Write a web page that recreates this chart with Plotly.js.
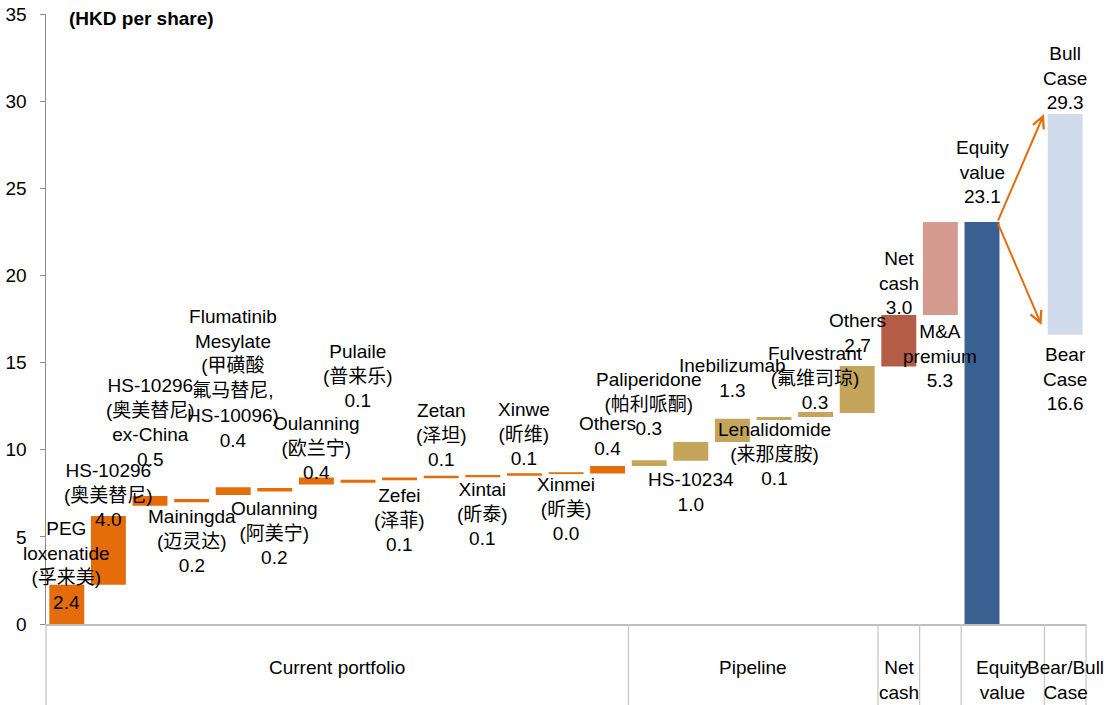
<!DOCTYPE html>
<html><head><meta charset="utf-8">
<script src="https://cdn.plot.ly/plotly-3.0.1.min.js"></script>
<style>html,body{margin:0;padding:0;background:#fff;} #chart{width:1109px;height:705px;}</style>
</head><body><div id="chart"></div>
<script>
// ---- data ----
const categories = ['PEG loxenatide','HS-10296','HS-10296 ex-China','Mainingda','Flumatinib Mesylate',
  'Oulanning (阿美宁)','Oulanning (欧兰宁)','Pulaile','Zefei','Zetan','Xintai','Xinwe','Xinmei','Others',
  'Paliperidone','HS-10234','Inebilizumab','Lenalidomide','Fulvestrant','Others (pipeline)',
  'Net cash','M&A premium','Equity value','(gap)','Bear/Bull Case'];
const barBase = [0, 2.25, 6.78, 6.98, 7.40, 7.60, 8.00, 8.11, 8.25, 8.36, 8.42, 8.50, 8.60, 8.64,
  9.07, 9.37, 10.44, 11.70, 11.88, 12.10, 14.77, 17.73, 0, null, 16.6];
const barTop = [2.25, 6.20, 7.35, 7.17, 7.85, 7.80, 8.40, 8.27, 8.40, 8.50, 8.55, 8.65, 8.70, 9.07,
  9.40, 10.44, 11.78, 11.88, 12.16, 14.80, 17.73, 23.06, 23.06, null, 29.26];
const barGroup = ['current','current','current','current','current','current','current','current','current',
  'current','current','current','current','current','pipeline','pipeline','pipeline','pipeline','pipeline',
  'pipeline','cash','premium','equity',null,'case'];
const labelNames = ['PEG<br>loxenatide<br>(孚来美)','HS-10296<br>(奥美替尼)','HS-10296<br>(奥美替尼)<br>ex-China',
  'Mainingda<br>(迈灵达)','Flumatinib<br>Mesylate<br>(甲磺酸<br>氟马替尼,<br>HS-10096)','Oulanning<br>(阿美宁)',
  'Oulanning<br>(欧兰宁)','Pulaile<br>(普来乐)','Zefei<br>(泽菲)','Zetan<br>(泽坦)','Xintai<br>(昕泰)',
  'Xinwe<br>(昕维)','Xinmei<br>(昕美)','Others','Paliperidone<br>(帕利哌酮)','HS-10234','Inebilizumab',
  'Lenalidomide<br>(来那度胺)','Fulvestrant<br>(氟维司琼)','Others','Net<br>cash','M&amp;A<br>premium',
  'Equity<br>value',null,null];
const labelValues = ['2.4','4.0','0.5','0.2','0.4','0.2','0.4','0.1','0.1','0.1','0.1','0.1','0.0','0.4',
  '0.3','1.0','1.3','0.1','0.3','2.7','3.0','5.3','23.1',null,null];
const caseNames = ['Bull<br>Case','Bear<br>Case'];
const caseValues = ['29.3','16.6'];
const groupNames = ['Current portfolio','Pipeline','Net<br>cash','','Equity<br>value','Bear/Bull<br>Case'];
const groupSizes = [14, 6, 1, 1, 2, 1];
const yTicks = [0, 5, 10, 15, 20, 25, 30, 35];

// ---- layout helpers (positions / styles) ----
const labelCenterY = [3.36, 7.43, 11.59, 4.76, 14.09, 5.25, 10.10, 14.23, 5.97, 10.84, 6.31, 10.90, 6.57,
  10.76, 12.65, 7.60, 14.14, 9.75, 14.11, 16.72, 19.56, 15.38, 25.93, null, null];
const caseLabelY = [31.30, 14.03];
const colors = {current:'#E46C0A', pipeline:'#C4A55B', cash:'#B45C45', premium:'#D59B90',
  equity:'#3A5F91', case:'#D0DCEC'};
const FONT = 'Liberation Sans, Arial, Noto Sans CJK SC, sans-serif';
const FS = 19;
const BW = 0.84;

const xs = categories.map((c, i) => i);
const heights = barTop.map((t, i) => (t === null ? null : t - barBase[i]));

const trace = {
  type: 'bar', x: xs, y: heights, base: barBase, width: BW,
  marker: {color: barGroup.map(g => g ? colors[g] : 'rgba(0,0,0,0)'), line: {width: 0}},
  hoverinfo: 'skip', text: categories, textposition: 'none'
};

const annotations = [];
labelNames.forEach((n, i) => {
  if (n === null) return;
  annotations.push({x: xs[i], y: labelCenterY[i], xref: 'x', yref: 'y', text: n + '<br>' + labelValues[i],
    showarrow: false, xanchor: 'center', yanchor: 'middle', align: 'center',
    font: {family: FONT, size: FS, color: '#000'}});
});
const caseIdx = categories.length - 1;
caseNames.forEach((n, k) => {
  annotations.push({x: xs[caseIdx], y: caseLabelY[k], xref: 'x', yref: 'y', text: n + '<br>' + caseValues[k],
    showarrow: false, xanchor: 'center', yanchor: 'middle', align: 'center',
    font: {family: FONT, size: FS, color: '#000'}});
});
// arrows from equity value to bull / bear case
const eqIdx = categories.indexOf('Equity value');
const tailX = xs[eqIdx] + BW / 2 - 0.05, tailY = barTop[eqIdx];
const heads = [[xs[caseIdx] - BW / 2 - 0.09, barTop[caseIdx]], [xs[caseIdx] - BW / 2 - 0.15, barBase[caseIdx] + 0.55]];
heads.forEach(h => {
  annotations.push({x: h[0], y: h[1], xref: 'x', yref: 'y', ax: tailX, ay: tailY, axref: 'x', ayref: 'y',
    text: '', showarrow: true, arrowhead: 5, arrowsize: 1.15, arrowwidth: 2, arrowcolor: '#E46C0A',
    standoff: 0, startstandoff: 0});
});
// title
annotations.push({x: 0.0202, y: 0.9934, xref: 'paper', yref: 'paper', text: '<b>(HKD per share)</b>',
  showarrow: false, xanchor: 'left', yanchor: 'middle', font: {family: FONT, size: FS, color: '#000'}});

// group separators and labels
const total = categories.length;
const shapes = [];
let acc = 0;
const bounds = [0];
groupSizes.forEach(s => { acc += s; bounds.push(acc); });
bounds.forEach(b => {
  shapes.push({type: 'line', xref: 'paper', yref: 'paper', x0: b / total, x1: b / total, y0: 0, y1: -0.14,
    line: {color: '#C8C8C8', width: 1.3}});
});
groupNames.forEach((g, k) => {
  if (!g) return;
  annotations.push({x: (bounds[k] + bounds[k + 1]) / 2 / total, y: -0.05, xref: 'paper', yref: 'paper',
    text: g, showarrow: false, xanchor: 'center', yanchor: 'top', align: 'center',
    font: {family: FONT, size: FS, color: '#000'}});
});

const layout = {
  width: 1109, height: 705,
  margin: {l: 46, r: 23, t: 14, b: 81},
  paper_bgcolor: '#fff', plot_bgcolor: '#fff',
  showlegend: false,
  xaxis: {range: [-0.5, total - 0.5], showticklabels: false, ticks: '', showgrid: false, zeroline: false,
    showline: true, linecolor: '#BFBFBF', linewidth: 1.5, fixedrange: true},
  yaxis: {range: [0, 35], tickvals: yTicks, showgrid: false, zeroline: false, showline: true,
    linecolor: '#8C8C8C', linewidth: 1.5, ticks: 'outside', ticklen: 5, tickcolor: '#8C8C8C', tickwidth: 1,
    tickfont: {family: FONT, size: FS, color: '#000'}, ticklabelstandoff: 9, fixedrange: true},
  annotations: annotations, shapes: shapes
};
Plotly.newPlot('chart', [trace], layout, {displayModeBar: false, staticPlot: true});
</script></body></html>
